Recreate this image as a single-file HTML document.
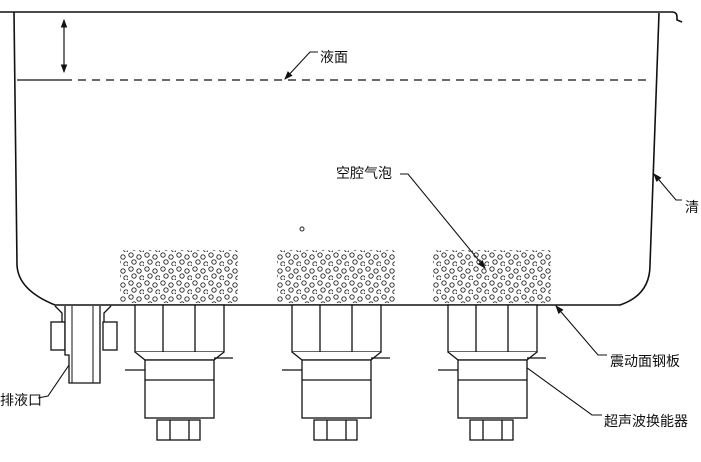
<!DOCTYPE html>
<html><head><meta charset="utf-8"><style>
body{margin:0;background:#fff;}
svg{display:block}
text{font-family:"Liberation Sans","Noto Sans CJK SC",sans-serif;font-size:14px;fill:#111}
</style></head><body>
<svg width="701" height="462" viewBox="0 0 701 462" xmlns="http://www.w3.org/2000/svg">
<defs>
<marker id="a" markerWidth="8" markerHeight="8" refX="7" refY="4" orient="auto"><path d="M0,1 L8,4 L0,7z" fill="#111"/></marker>
<pattern id="b" width="16" height="14" patternUnits="userSpaceOnUse">
<circle cx="3" cy="3" r="2.2" fill="none" stroke="#222" stroke-width="0.9"/>
<circle cx="11" cy="5" r="2.2" fill="none" stroke="#222" stroke-width="0.9"/>
<circle cx="6" cy="10" r="2.2" fill="none" stroke="#222" stroke-width="0.9"/>
<circle cx="14" cy="12" r="2.2" fill="none" stroke="#222" stroke-width="0.9"/>
</pattern>
<g id="t" fill="#fff" stroke="#111" stroke-width="1.3">
<rect x="120" y="250" width="118" height="53" fill="url(#b)" stroke="none"/>
<rect x="135" y="305" width="89" height="47"/>
<line x1="163" y1="305" x2="163" y2="352"/><line x1="195" y1="305" x2="195" y2="352"/>
<path d="M135,352 L145,360 L214,360 L224,352"/>
<rect x="145" y="360" width="69" height="58"/>
<line x1="145" y1="380" x2="214" y2="380"/>
<line x1="214" y1="358" x2="233" y2="358"/><line x1="125" y1="370" x2="145" y2="370"/>
<rect x="157" y="420" width="43" height="20"/>
<line x1="170" y1="420" x2="170" y2="440"/><line x1="189" y1="420" x2="189" y2="440"/>
</g>
</defs>
<g fill="none" stroke="#111" stroke-width="1.6">
<path d="M0,12 L672,12 Q677,12 677,17 L677,20 L682,22"/>
<path d="M14,12 L17,265 Q18,290 55,305 L620,305 Q650,295 650,265 L659,13"/>
<line x1="17" y1="80" x2="64" y2="80" stroke-width="1.2"/>
<line x1="64" y1="80" x2="650" y2="80" stroke-width="1.3" stroke-dasharray="8,6"/>
</g>
<g stroke="#111" stroke-width="1.1" fill="none">
<line x1="64" y1="20" x2="64" y2="72" marker-end="url(#a)"/>
<line x1="64" y1="72" x2="64" y2="20" marker-end="url(#a)"/>
<path d="M318,52 L310,52 L285,79" marker-end="url(#a)"/>
<path d="M400,174 L408,174 L485,268" marker-end="url(#a)"/>
<path d="M682,200 L676,200 L654,174" marker-end="url(#a)"/>
<path d="M38,398 L48,396 L84,343" marker-end="url(#a)"/>
<path d="M607,355 L598,355 L556,306" marker-end="url(#a)"/>
<path d="M602,415 L592,415 L490,341" marker-end="url(#a)"/>
</g>
<use href="#t"/>
<use href="#t" x="157"/>
<use href="#t" x="313"/>
<circle cx="302" cy="229" r="2" fill="none" stroke="#222"/>
<g fill="#fff" stroke="#111" stroke-width="1.3">
<path d="M55,306 L62,313 L62,350 M111,306 L104,313 L104,350"/>
<rect x="51" y="322" width="14" height="28"/>
<rect x="103" y="322" width="14" height="28"/>
<path d="M65,306 L65,355 L69,355 L69,383 L100,383 L100,306"/>
<line x1="72" y1="306" x2="72" y2="383" stroke-width="1"/>
<line x1="93" y1="306" x2="93" y2="383" stroke-width="1"/>
</g>
<text x="320" y="62">液面</text>
<text x="336" y="178">空腔气泡</text>
<text x="685" y="212">清</text>
<text x="0" y="405">排液口</text>
<text x="610" y="366">震动面钢板</text>
<text x="604" y="426">超声波换能器</text>
</svg>
</body></html>
